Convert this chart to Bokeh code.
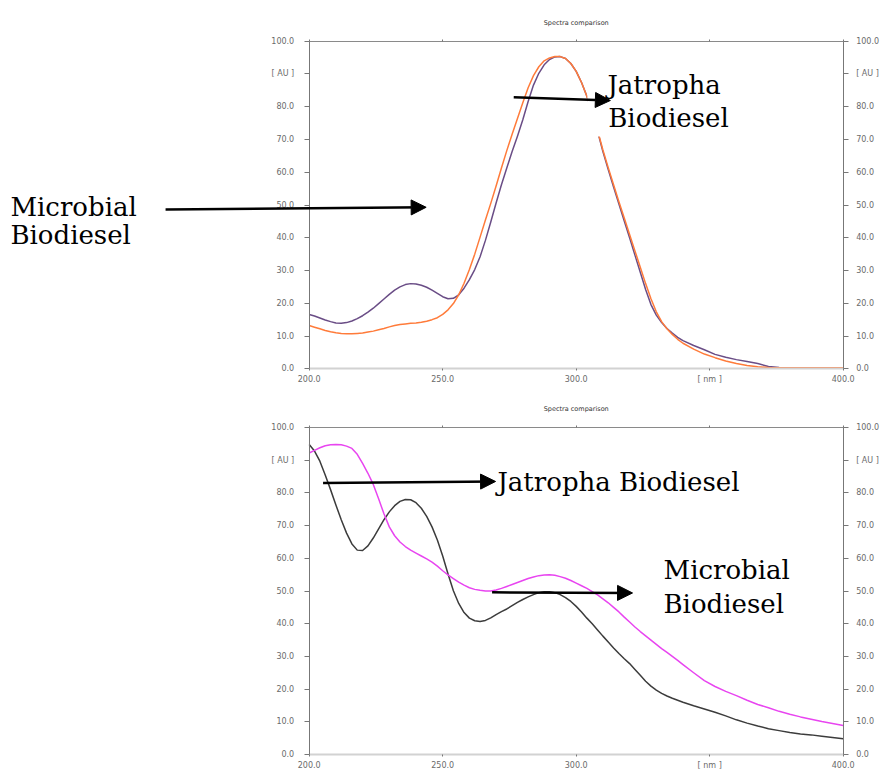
from bokeh.plotting import figure
from bokeh.models import (LinearAxis, FixedTicker, Range1d, Label, Arrow,
                          NormalHead, BoxAnnotation)
from bokeh.layouts import column
from bokeh.embed import file_html
from bokeh.resources import INLINE

# ---------------- data ----------------
wavelength_nm = [200, 202, 204, 206, 208, 210, 212, 214, 216, 218,
                 220, 222, 224, 226, 228, 230, 232, 234, 236, 238,
                 240, 242, 244, 246, 248, 250, 252, 254, 256, 258,
                 260, 262, 264, 266, 268, 270, 272, 274, 276, 278,
                 280, 282, 284, 286, 288, 290, 292, 294, 296, 298,
                 300, 302, 304, 306, 308, 310, 312, 314, 316, 318,
                 320, 322, 324, 326, 328, 330, 332, 334, 336, 338,
                 340, 344, 348, 352, 356, 360, 364, 368, 372, 376,
                 380, 384, 388, 392, 396, 400]

top_purple_au = [16.6, 16.1, 15.5, 14.9, 14.4, 14.0, 13.9, 14.1, 14.6, 15.3,
                 16.2, 17.3, 18.5, 19.9, 21.3, 22.7, 24.0, 25.0, 25.7, 26.0,
                 25.9, 25.5, 24.9, 24.0, 23.0, 22.0, 21.4, 21.5, 22.6, 24.6,
                 27.2, 30.3, 34.2, 39.2, 44.8, 50.6, 56.2, 61.3, 66.3, 71.0,
                 76.0, 81.6, 86.6, 90.2, 92.8, 94.4, 95.2, 95.3, 94.7, 93.2,
                 90.8, 87.4, 83.2, 78.3, 72.5, 66.3, 60.8, 55.5, 50.3, 45.1,
                 40.0, 34.7, 29.5, 24.2, 19.6, 16.4, 14.1, 12.3, 10.9, 9.6,
                 8.6, 7.1, 5.8, 4.4, 3.5, 2.8, 2.2, 1.6, 0.7, 0.4,
                 0.3, 0.3, 0.3, 0.3, 0.3, 0.3]
top_orange_au = [13.2, 12.7, 12.2, 11.7, 11.3, 11.0, 10.8, 10.7, 10.7, 10.8,
                 10.9, 11.2, 11.5, 11.9, 12.3, 12.8, 13.2, 13.5, 13.7, 13.9,
                 14.0, 14.2, 14.5, 15.0, 15.6, 16.6, 18.0, 19.9, 22.6, 26.1,
                 30.3, 35.0, 40.2, 45.4, 50.5, 55.8, 61.3, 66.6, 71.6, 76.4,
                 81.2, 85.8, 89.5, 92.2, 94.0, 94.9, 95.3, 95.3, 94.7, 93.2,
                 90.8, 87.4, 83.2, 78.5, 72.8, 66.8, 61.4, 56.2, 51.0, 46.0,
                 41.0, 36.0, 31.0, 26.0, 21.4, 17.4, 14.4, 12.2, 10.5, 9.0,
                 7.8, 6.0, 4.5, 3.4, 2.4, 1.6, 1.0, 0.6, 0.4, 0.3,
                 0.3, 0.3, 0.3, 0.3, 0.3, 0.3]

bottom_black_au = [94.8, 92.8, 89.7, 85.5, 81.0, 76.3, 71.8, 67.7, 64.4, 62.5,
                   62.4, 63.8, 66.2, 69.0, 71.8, 74.2, 76.1, 77.4, 78.0, 77.9,
                   77.0, 75.3, 72.8, 69.6, 65.6, 60.7, 55.2, 50.1, 46.2, 43.4,
                   41.7, 40.9, 40.7, 41.0, 41.8, 42.8, 43.7, 44.5, 45.5, 46.5,
                   47.4, 48.2, 48.9, 49.5, 49.8, 49.8, 49.5, 48.9, 48.0, 46.8,
                   45.3, 43.6, 41.7, 40.0, 38.1, 36.2, 34.4, 32.6, 30.9, 29.3,
                   27.8, 26.0, 24.2, 22.4, 20.9, 19.7, 18.7, 17.9, 17.2, 16.6,
                   16.0, 14.9, 13.9, 12.9, 11.8, 10.6, 9.6, 8.7, 7.9, 7.3,
                   6.7, 6.3, 6.0, 5.6, 5.2, 4.8]
bottom_magenta_au = [92.2, 93.0, 93.8, 94.4, 94.7, 94.8, 94.7, 94.3, 93.6, 91.8,
                     89.0, 86.0, 82.6, 78.2, 73.6, 69.6, 66.9, 65.0, 63.6, 62.5,
                     61.6, 60.7, 59.8, 58.8, 57.6, 56.2, 54.9, 53.8, 52.7, 51.8,
                     51.0, 50.5, 50.2, 50.0, 50.0, 50.3, 50.8, 51.4, 52.0, 52.6,
                     53.2, 53.8, 54.3, 54.7, 54.9, 55.0, 54.8, 54.4, 53.9, 53.2,
                     52.4, 51.6, 50.8, 49.8, 48.8, 47.6, 46.4, 45.0, 43.6, 42.0,
                     40.5, 39.0, 37.6, 36.3, 35.0, 33.7, 32.4, 31.2, 30.0, 28.8,
                     27.5, 25.0, 22.6, 20.8, 19.3, 18.0, 16.6, 15.3, 14.3, 13.2,
                     12.3, 11.5, 10.8, 10.1, 9.5, 8.9]

x_ticks = [200, 250, 300, 350, 400]
x_tick_labels = {200: "200.0", 250: "250.0", 300: "300.0", 350: "[ nm ]", 400: "400.0"}
y_ticks = [0, 10, 20, 30, 40, 50, 60, 70, 80, 90, 100]
y_tick_labels = {0: "0.0", 10: "10.0", 20: "20.0", 30: "30.0", 40: "40.0",
                 50: "50.0", 60: "60.0", 70: "70.0", 80: "80.0", 90: "[ AU ]",
                 100: "100.0"}
panel_title = "Spectra comparison"

SERIF = "DejaVu Serif"
SANS = "DejaVu Sans"
W = 880


def style_axis(ax, line_color="#777777", tick_out=5, standoff=9):
    ax.axis_line_color = line_color
    ax.axis_line_width = 1
    ax.major_tick_line_color = "#777777"
    ax.major_tick_out = tick_out
    ax.major_tick_in = 0
    ax.minor_tick_out = 0
    ax.minor_tick_in = 0
    ax.major_label_text_font = SANS
    ax.major_label_text_font_size = "8px"
    ax.major_label_text_color = "#6a6a6a"
    ax.major_label_standoff = standoff


def make_panel(height, frame_left_px, frame_top_px, frame_bottom_px, frame_right_px):
    # the frame fills the whole canvas; axes are pinned at data locations
    kx = (frame_right_px - frame_left_px) / 200.0
    ky = (frame_bottom_px - frame_top_px) / 100.0
    x0 = 200 - frame_left_px / kx
    x1 = x0 + W / kx
    y1 = frame_bottom_px / ky
    y0 = -(height - frame_bottom_px) / ky
    p = figure(width=W, height=height, x_range=Range1d(x0, x1),
               y_range=Range1d(y0, y1), output_backend="svg",
               toolbar_location=None, x_axis_location=None, y_axis_location=None,
               min_border_left=0, min_border_right=0,
               min_border_top=0, min_border_bottom=0)
    p.title.visible = False
    p.outline_line_color = None
    p.grid.visible = False
    p.background_fill_color = "white"
    p.border_fill_color = "white"

    left = LinearAxis(ticker=FixedTicker(ticks=y_ticks, minor_ticks=[]),
                      major_label_overrides=y_tick_labels,
                      fixed_location=200, bounds=(0, 100))
    style_axis(left, standoff=10)
    p.add_layout(left, "left")
    right = LinearAxis(ticker=FixedTicker(ticks=y_ticks, minor_ticks=[]),
                       major_label_overrides=y_tick_labels,
                       fixed_location=400, bounds=(0, 100))
    style_axis(right, standoff=8)
    p.add_layout(right, "right")
    top = LinearAxis(ticker=FixedTicker(ticks=x_ticks, minor_ticks=[]),
                     major_label_overrides={t: "" for t in x_ticks},
                     fixed_location=100, bounds=(200, 400))
    style_axis(top, line_color="#8a8a8a", tick_out=2, standoff=0)
    p.add_layout(top, "above")
    below = LinearAxis(ticker=FixedTicker(ticks=x_ticks, minor_ticks=[]),
                       major_label_overrides=x_tick_labels,
                       fixed_location=0, bounds=(200, 400))
    style_axis(below, line_color="#d2d2d2", tick_out=2, standoff=4)
    below.axis_line_width = 2
    p.add_layout(below, "below")
    return p


def add_title(p, y):
    p.add_layout(Label(x=300, y=y, text=panel_title, text_align="center",
                       text_baseline="middle", text_font=SANS,
                       text_font_size="6.5px", text_color="#333333"))


def add_text(p, x, y, txt):
    p.add_layout(Label(x=x, y=y, text=txt, text_font=SERIF,
                       text_font_size="26px", text_color="black",
                       text_baseline="alphabetic", text_align="left"))


def add_arrow(p, x0, y0, x1, y1):
    p.add_layout(Arrow(end=NormalHead(size=15, fill_color="black",
                                      line_color="black"),
                       x_start=x0, y_start=y0, x_end=x1, y_end=y1,
                       line_color="black", line_width=2.5))


# ---------------- top panel ----------------
p1 = make_panel(392, 308.7, 40.7, 368.3, 842.7)
p1.line(wavelength_nm, top_purple_au, line_color="#6a4d86", line_width=1.5,
        line_join="round")
p1.line(wavelength_nm, top_orange_au, line_color="#ff7b3a", line_width=1.5,
        line_join="round")
p1.add_layout(BoxAnnotation(left=304.2, right=360, bottom=70.9, top=95,
                            fill_color="white", fill_alpha=1.0,
                            line_color=None))
add_title(p1, 105.7)
add_arrow(p1, 146.2, 48.6, 243.8, 49.3)
add_arrow(p1, 276.6, 82.9, 312.8, 81.9)
add_text(p1, 88.1, 49.5, "Microbial")
add_text(p1, 88.1, 40.7, "Biodiesel")
add_text(p1, 311.7, 86.5, "Jatropha")
add_text(p1, 312.0, 76.7, "Biodiesel")

# ---------------- bottom panel ----------------
p2 = make_panel(384, 308.7, 35.0, 362.0, 842.7)
p2.line(wavelength_nm, bottom_black_au, line_color="#3c3c3c", line_width=1.5,
        line_join="round")
p2.line(wavelength_nm, bottom_magenta_au, line_color="#e845f0", line_width=1.5,
        line_join="round")
add_title(p2, 105.8)
add_arrow(p2, 205.2, 83.0, 269.8, 83.5)
add_arrow(p2, 268.5, 49.6, 321.1, 49.4)
add_text(p2, 270.5, 83.2, "Jatropha Biodiesel")
add_text(p2, 332.7, 56.5, "Microbial")
add_text(p2, 332.7, 45.9, "Biodiesel")

layout = column(p1, p2)
open("out.html", "w").write(file_html(layout, INLINE))
